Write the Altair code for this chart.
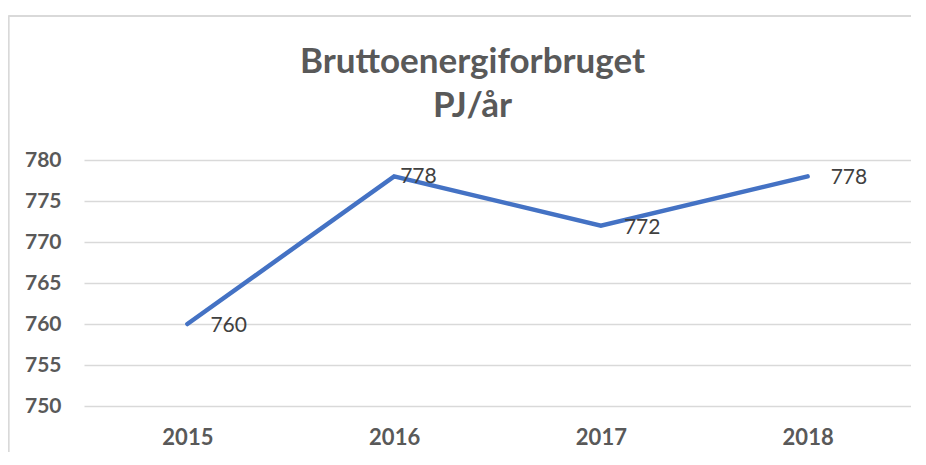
import altair as alt
import pandas as pd

years = ["2015", "2016", "2017", "2018"]
values = [760, 778, 772, 778]
y_ticks = [750, 755, 760, 765, 770, 775, 780]

df = pd.DataFrame({"year": years, "value": values})

FONT = "Lato"
GREY = "#595959"
BORDER = "#d9d9d9"

x_enc = alt.X("year:N", sort=years,
              scale=alt.Scale(paddingInner=0, paddingOuter=0.5),
              axis=alt.Axis(title=None, labelAngle=0, labelFontWeight="bold",
                            labelFontSize=22, labelColor=GREY, labelFont=FONT,
                            ticks=False, domain=False, labelPadding=21, grid=False))
y_enc = alt.Y("value:Q",
              scale=alt.Scale(domain=[750, 780], nice=False, zero=False),
              axis=alt.Axis(title=None, values=y_ticks, labelFontWeight="bold",
                            labelFontSize=21, labelColor=GREY, labelFont=FONT,
                            ticks=False, domain=False, labelPadding=23,
                            grid=True, gridColor=BORDER, gridWidth=1.3))

left_border = alt.Chart(df).mark_rule(stroke=BORDER, strokeWidth=1.5, clip=False).encode(
    x=alt.value(-75.5), y=alt.value(-144), y2=alt.value(330)
)
top_border = alt.Chart(df).mark_rule(stroke=BORDER, strokeWidth=1.5, clip=False).encode(
    x=alt.value(-75.5), x2=alt.value(900), y=alt.value(-144)
)

line = alt.Chart(df).mark_line(color="#4472C4", strokeWidth=4.5, strokeCap="round",
                               strokeJoin="miter").encode(x=x_enc, y=y_enc)

base_labels = alt.Chart(df).encode(
    x=alt.X("year:N", sort=years), y="value:Q", text="value:Q")
labels = base_labels.mark_text(align="left", baseline="middle", dx=23, dy=2,
                               fontSize=21, color="#404040", font=FONT
                               ).transform_filter(alt.datum.year != "2016")
label_2016 = base_labels.mark_text(align="left", baseline="middle", dx=6, dy=1,
                                   fontSize=21, color="#404040", font=FONT
                                   ).transform_filter(alt.datum.year == "2016")

chart = alt.layer(left_border, top_border, line, labels, label_2016).properties(
    width=827, height=246,
    autosize=alt.AutoSizeParams(type="none"),
    padding={"left": 76, "top": 152, "right": 0, "bottom": 46},
    title=alt.TitleParams(["Bruttoenergiforbruget", "PJ/år"], fontSize=35,
                          font=FONT, fontWeight="bold", color=GREY,
                          anchor="middle", dx=-25, lineHeight=44, offset=-109),
).configure_view(stroke=None)

chart.save("out.html", embed_options={"renderer": "svg", "actions": False})
